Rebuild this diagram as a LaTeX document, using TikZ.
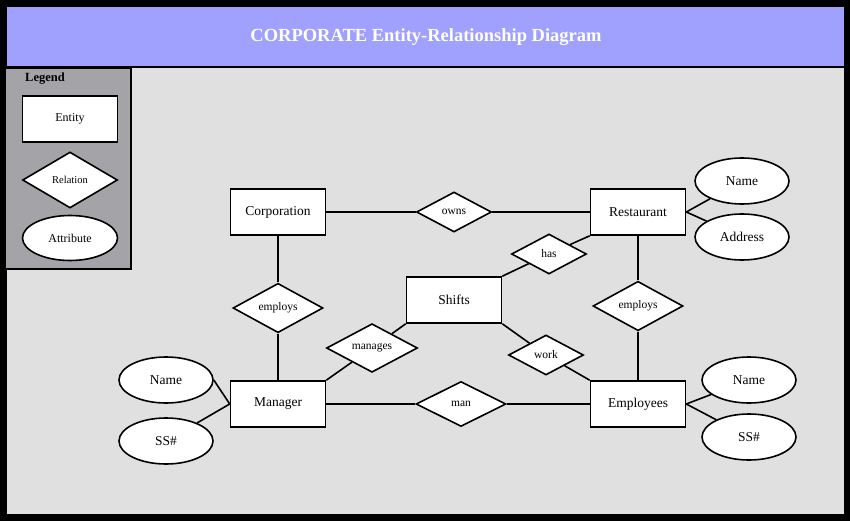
\documentclass[tikz,border=0pt]{standalone}
\usepackage{fontspec}
\setmainfont{Liberation Serif}
\usetikzlibrary{shapes.geometric}
\definecolor{titleblue}{HTML}{A0A0FF}
\definecolor{canvas}{HTML}{E0E0E0}
\definecolor{legendgray}{HTML}{A3A3A8}
\tikzset{
  entity/.style={draw, fill=white, line width=1.6pt, minimum width=95pt, minimum height=46pt,
    inner sep=0pt, font=\fontsize{13.5}{15}\selectfont},
  relation/.style={draw, fill=white, diamond, line width=1.6pt, inner sep=0pt,
    minimum width=75pt, minimum height=40pt, font=\fontsize{11.5}{13}\selectfont},
  bigrel/.style={relation, minimum width=90pt, minimum height=45pt},
  attribute/.style={draw, fill=white, ellipse, line width=1.6pt, inner sep=0pt,
    minimum width=94pt, minimum height=46pt, font=\fontsize{13.5}{15}\selectfont},
  link/.style={line width=1.6pt}
}
\begin{document}
\begin{tikzpicture}[x=1pt,y=-1pt]
  % frame, title bar and canvas
  \fill[black] (0,0) rectangle (850,521);
  \fill[titleblue] (7,7) rectangle (844,66);
  \fill[canvas] (7,68) rectangle (844,514);
  \node[text=white, font=\fontsize{18.5}{22}\selectfont\bfseries] (title) at (426,37)
    {CORPORATE Entity-Relationship Diagram};

  % legend
  \draw[line width=2pt, fill=legendgray] (6,68) -- (131,68) -- (131,269) -- (6,269);
  \node[font=\fontsize{12.5}{14}\selectfont\bfseries] (leg) at (45,79) {Legend};
  \node[entity, font=\fontsize{12}{14}\selectfont] (legE) at (70,119) {Entity};
  \node[relation, minimum width=95pt, minimum height=56pt, font=\fontsize{10.5}{12}\selectfont] (legR) at (70,180) {Relation};
  \node[attribute, minimum width=95pt, minimum height=45pt, font=\fontsize{12}{14}\selectfont] (legA) at (70,238) {Attribute};

  % entities
  \node[entity] (corp) at (278,212) {Corporation};
  \node[entity] (rest) at (638,212) {Restaurant};
  \node[entity] (shifts) at (454,300) {Shifts};
  \node[entity] (mgr) at (278,404) {Manager};
  \node[entity] (emp) at (638,404) {Employees};

  % relations
  \node[relation] (owns) at (454,212) {owns};
  \node[relation] (has) at (549,254) {has};
  \node[bigrel] (employsL) at (278,308) {employs};
  \node[bigrel] (employsR) at (638,306) {employs};
  \node[bigrel, minimum width=91pt] (manages) at (372,348) {manages};
  \node[relation] (work) at (546,355) {work};
  \node[bigrel] (man) at (461,404) {man};

  % attributes
  \node[attribute] (rname) at (742,181) {Name};
  \node[attribute] (raddr) at (742,237) {Address};
  \node[attribute] (mname) at (166,380) {Name};
  \node[attribute] (mssn) at (166,441) {SS\#};
  \node[attribute] (ename) at (749,380) {Name};
  \node[attribute] (essn) at (749,437) {SS\#};

  % relationships
  \draw[link] (corp) -- (owns) -- (rest);
  \draw[link] (corp) -- (employsL) -- (mgr);
  \draw[link] (rest) -- (employsR) -- (emp);
  \draw[link] (mgr) -- (man) -- (emp);
  \draw[link] (rest.south west) -- (has) -- (shifts.north east);
  \draw[link] (shifts.south west) -- (manages) -- (mgr.north east);
  \draw[link] (shifts.south east) -- (work) -- (emp.north west);

  % attribute links
  \draw[link] (rest.east) -- (rname);
  \draw[link] (rest.east) -- (raddr);
  \draw[link] (mgr.west) -- (mname.east);
  \draw[link] (mgr.west) -- (mssn);
  \draw[link] (emp.east) -- (ename);
  \draw[link] (emp.east) -- (essn);
\end{tikzpicture}
\end{document}
